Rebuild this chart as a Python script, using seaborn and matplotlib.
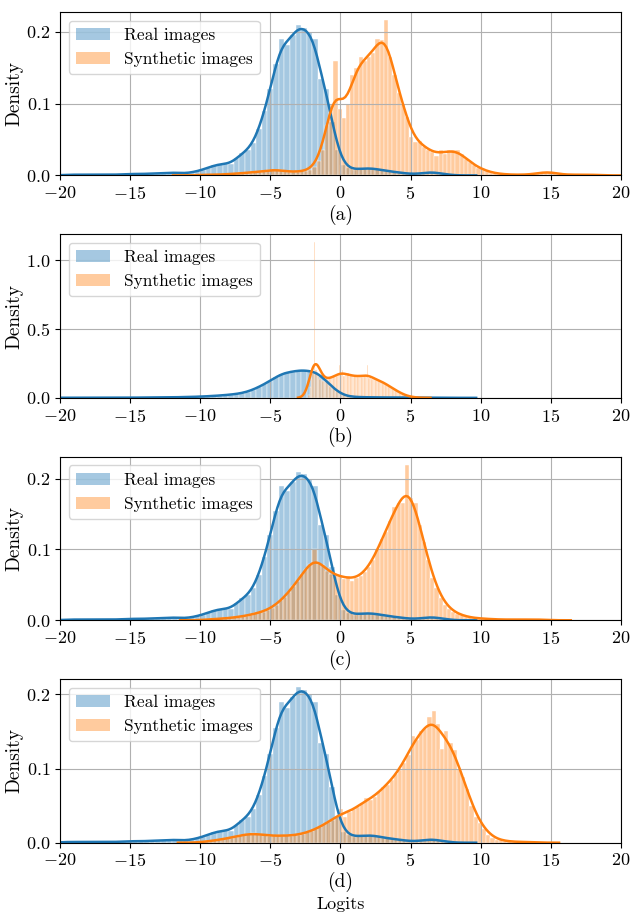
import numpy as np
import matplotlib
matplotlib.use("Agg")
import matplotlib.pyplot as plt
from matplotlib.patches import Patch
import seaborn as sns

# ---- data (density per bin) ----
# real images, panels (a), (c), (d): bins of 0.4 starting at -20.0
real_start, real_width = -20.0, 0.4
real_acd = [
    0.001, 0.001, 0.001, 0.001, 0.001, 0.001, 0.001,
    0.001, 0.001, 0.001, 0.001, 0.002, 0.002, 0.002, 0.002, 0.002, 0.003,
    0.003, 0.003, 0.004, 0.004, 0.003, 0.003, 0.004, 0.006, 0.008, 0.011,
    0.014, 0.016, 0.016, 0.016, 0.024, 0.031, 0.035, 0.045, 0.064, 0.09,
    0.12, 0.155, 0.19, 0.182, 0.196, 0.21, 0.206, 0.2, 0.19, 0.135,
    0.12, 0.075, 0.035, 0.015, 0.01, 0.008, 0.009, 0.01, 0.01, 0.009,
    0.007, 0.006, 0.005, 0.004, 0.003, 0.002, 0.002, 0.003, 0.004, 0.005,
    0.003, 0.002, 0.001,
]
# real images, panel (b)
real_b = [
    0.001, 0.001, 0.001, 0.001, 0.001, 0.001, 0.001,
    0.001, 0.001, 0.001, 0.001, 0.001, 0.001, 0.002, 0.002, 0.002, 0.002,
    0.003, 0.003, 0.004, 0.004, 0.005, 0.006, 0.007, 0.008, 0.010, 0.012,
    0.014, 0.017, 0.020, 0.024, 0.028, 0.035, 0.045, 0.06, 0.08, 0.1,
    0.125, 0.15, 0.175, 0.185, 0.19, 0.2, 0.2, 0.195, 0.19, 0.165,
    0.12, 0.08, 0.045, 0.02, 0.01, 0.007, 0.005, 0.004, 0.004, 0.003,
    0.003, 0.003, 0.002, 0.002, 0.002, 0.002, 0.002, 0.001, 0.001, 0.001,
    0.001, 0.001, 0.001,
]

# synthetic images
synth_a_start, synth_a_width = -10.1, 0.3
synth_a = [
    0.001, 0.001, 0.001, 0.001, 0.001, 0.001, 0.002,
    0.002, 0.002, 0.003, 0.003, 0.004, 0.004, 0.005, 0.005, 0.006, 0.007,
    0.008, 0.008, 0.007, 0.006, 0.005, 0.005, 0.005, 0.006, 0.006, 0.008,
    0.012, 0.02, 0.035, 0.07, 0.1, 0.16, 0.092, 0.08, 0.1, 0.14,
    0.15, 0.165, 0.16, 0.165, 0.17, 0.19, 0.188, 0.217, 0.165, 0.14,
    0.115, 0.1, 0.082, 0.054, 0.046, 0.048, 0.04, 0.036, 0.033, 0.027,
    0.035, 0.03, 0.035, 0.035, 0.035, 0.03, 0.023, 0.019, 0.014, 0.011,
    0.008, 0.006, 0.004, 0.003, 0.002, 0.002, 0.001, 0.001, 0.001, 0.001,
    0.001, 0.001, 0.002, 0.003, 0.004, 0.005, 0.005, 0.004, 0.002, 0.001,
    0.001, 0.001, 0.001, 0.001, 0.001, 0.001, 0.001, 0.001,
]
synth_b_start, synth_b_width = -2.3, 0.1
synth_b = [
    0.02, 0.08, 0.14, 0.18, 1.13, 0.2, 0.18, 0.16, 0.14, 0.13,
    0.125, 0.125, 0.13, 0.135, 0.14, 0.145, 0.15, 0.145, 0.155, 0.15,
    0.155, 0.165, 0.24, 0.18, 0.2, 0.16, 0.17, 0.165, 0.18, 0.16,
    0.165, 0.16, 0.15, 0.165, 0.155, 0.15, 0.155, 0.165, 0.15, 0.155,
    0.16, 0.155, 0.24, 0.145, 0.15, 0.14, 0.145, 0.135, 0.13, 0.135,
    0.125, 0.12, 0.125, 0.11, 0.11, 0.1, 0.092, 0.09, 0.082, 0.075,
    0.065, 0.062, 0.055, 0.047, 0.045, 0.037, 0.03, 0.027, 0.02, 0.018,
    0.014, 0.01, 0.008, 0.006, 0.005, 0.004, 0.003, 0.002, 0.002, 0.001,
]
synth_c_start, synth_c_width = -9.8, 0.3
synth_c = [
    0.001, 0.001, 0.002, 0.002, 0.002, 0.003, 0.003, 0.004, 0.005, 0.006,
    0.006, 0.008, 0.01, 0.011, 0.012, 0.015, 0.018, 0.022, 0.028, 0.033,
    0.04, 0.048, 0.056, 0.065, 0.072, 0.08, 0.101, 0.08, 0.078, 0.07,
    0.066, 0.062, 0.064, 0.058, 0.063, 0.055, 0.06, 0.062, 0.068, 0.075,
    0.085, 0.1, 0.115, 0.125, 0.14, 0.16, 0.165, 0.166, 0.22, 0.172,
    0.165, 0.135, 0.11, 0.085, 0.06, 0.045, 0.032, 0.022, 0.016, 0.012,
    0.009, 0.007, 0.005, 0.004, 0.003, 0.003, 0.002, 0.002, 0.002, 0.001,
    0.001, 0.001, 0.001, 0.001, 0.001, 0.001, 0.001, 0.001, 0.001, 0.001,
    0.001, 0.001,
]
synth_d_start, synth_d_width = -10.0, 0.3
synth_d = [
    0.001, 0.002, 0.002, 0.003, 0.004, 0.005, 0.006, 0.007, 0.008, 0.01,
    0.011, 0.012, 0.013, 0.012, 0.011, 0.01, 0.009, 0.009, 0.01, 0.009,
    0.01, 0.009, 0.01, 0.011, 0.012, 0.014, 0.016, 0.018, 0.021, 0.025,
    0.028, 0.031, 0.035, 0.046, 0.035, 0.042, 0.046, 0.048, 0.053, 0.06,
    0.058, 0.061, 0.068, 0.075, 0.078, 0.085, 0.092, 0.098, 0.108, 0.118,
    0.144, 0.138, 0.15, 0.153, 0.17, 0.178, 0.16, 0.127, 0.15, 0.135,
    0.125, 0.1, 0.088, 0.072, 0.05, 0.035, 0.027, 0.018, 0.011, 0.007,
    0.004, 0.003, 0.002, 0.002, 0.001, 0.001, 0.001, 0.001, 0.001, 0.001,
]

panel_labels = ["(a)", "(b)", "(c)", "(d)"]
panel_yticks = [[0, 0.1, 0.2], [0, 0.5, 1.0], [0, 0.1, 0.2], [0, 0.1, 0.2]]
synth_bw = [0.3, 0.4, 0.3, 0.3]
xticks = list(range(-20, 21, 5))

panels = [
    ((real_start, real_width, real_acd), (synth_a_start, synth_a_width, synth_a)),
    ((real_start, real_width, real_b), (synth_b_start, synth_b_width, synth_b)),
    ((real_start, real_width, real_acd), (synth_c_start, synth_c_width, synth_c)),
    ((real_start, real_width, real_acd), (synth_d_start, synth_d_width, synth_d)),
]

plt.rcParams["font.family"] = "serif"
plt.rcParams["font.serif"] = ["cmr10"]
plt.rcParams["mathtext.fontset"] = "cm"
plt.rcParams["axes.formatter.use_mathtext"] = True
plt.rcParams["font.size"] = 13


def draw_hist(ax, spec, color, bw):
    start, width, heights = spec
    heights = np.asarray(heights)
    n = len(heights)
    centers = start + width * (np.arange(n) + 0.5)
    sns.histplot(
        x=centers, weights=heights, binwidth=width,
        binrange=(start, start + width * n), stat="count",
        kde=True, color=color, alpha=0.4, edgecolor="white", linewidth=0.3,
        kde_kws=dict(bw_adjust=bw, cut=2), line_kws=dict(linewidth=1.8),
        ax=ax,
    )


fig, axes = plt.subplots(4, 1, figsize=(6.31, 9.13), dpi=100)
fig.subplots_adjust(left=0.095, right=0.984, top=0.987, bottom=0.077, hspace=0.36)

for i, (ax, (real, synth)) in enumerate(zip(axes, panels)):
    draw_hist(ax, real, "C0", 0.27)
    draw_hist(ax, synth, "C1", synth_bw[i])
    ax.set_xlim(-20, 20)
    ax.set_xticks(xticks)
    ax.set_yticks(panel_yticks[i])
    ax.grid(True)
    ax.set_ylabel("Density", fontsize=14, labelpad=2)
    ax.set_xlabel(panel_labels[i], fontsize=14, labelpad=2)
    handles = [
        Patch(facecolor="C0", alpha=0.4, label="Real images"),
        Patch(facecolor="C1", alpha=0.4, label="Synthetic images"),
    ]
    ax.legend(handles=handles, loc="upper left", fontsize=12.5)

fig.text(0.54, 4 / 913, "Logits", ha="center", va="baseline", fontsize=13)

fig.savefig("out.png", dpi=100)
